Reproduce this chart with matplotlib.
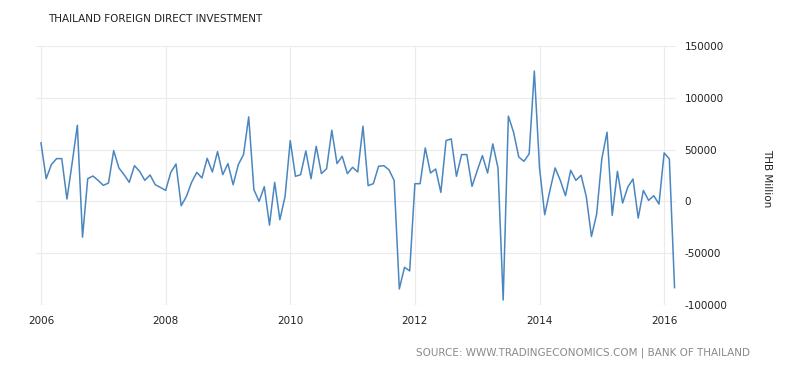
import matplotlib
matplotlib.use("Agg")
import matplotlib.pyplot as plt
import numpy as np

title = "THAILAND FOREIGN DIRECT INVESTMENT"
source = "SOURCE: WWW.TRADINGECONOMICS.COM | BANK OF THAILAND"
y_label = "THB Million"
start_year = 2006

# Monthly values, Jan 2006 - Mar 2016 (THB Million)
values_2006 = [56500, 21900, 35500, 41300, 41300, 2300, 37000, 73500, -34500, 21900, 24500, 20300]
values_2007 = [15500, 17700, 49000, 32300, 25800, 18400, 34500, 29000, 20300, 25500, 16100, 13500]
values_2008 = [10600, 28000, 36100, -4200, 4800, 18400, 28000, 22600, 41600, 28400, 48100, 25800]
values_2009 = [36500, 16100, 35500, 45200, 81600, 11300, 0, 14200, -22900, 18400, -17700, 4800]
values_2010 = [58700, 24200, 25800, 48700, 21900, 53200, 26800, 31600, 68700, 36500, 43500, 26800]
values_2011 = [32900, 28400, 72600, 15200, 17100, 33900, 34500, 30600, 20300, -84500, -63600, -67100]
values_2012 = [17100, 17100, 51600, 27400, 31300, 8700, 58700, 60300, 24200, 45200, 45200, 14500]
values_2013 = [29700, 44200, 27400, 55500, 32300, -95200, 82300, 66800, 42900, 38700, 45800, 125800]
values_2014 = [32300, -12900, 10600, 32300, 20300, 5500, 30000, 20300, 25200, 4800, -33900, -12300]
values_2015 = [41300, 66800, -13500, 29000, -1600, 13900, 21600, -16100, 10600, 1000, 5500, -2600]
values_2016 = [46800, 41000, -83200]

x_ticks = [2006, 2008, 2010, 2012, 2014, 2016]
y_ticks = [-100000, -50000, 0, 50000, 100000, 150000]

values = (values_2006 + values_2007 + values_2008 + values_2009 + values_2010 +
          values_2011 + values_2012 + values_2013 + values_2014 + values_2015 + values_2016)
x = start_year + np.arange(len(values)) / 12.0

fig = plt.figure(figsize=(8, 3.73), dpi=100)
ax = fig.add_axes([0.045, 0.1823, 0.80, 0.6944])
ax.plot(x, values, color="#4a86c0", linewidth=1.1)

ax.set_xlim(2005.92, 2016.19)
ax.set_ylim(-100000, 150000)
ax.set_xticks(x_ticks)
ax.set_xticklabels([str(t) for t in x_ticks])
ax.set_yticks(y_ticks)
ax.set_yticklabels([str(t) for t in y_ticks])
ax.yaxis.tick_right()
ax.tick_params(axis="both", length=0, labelsize=7.5, colors="#222222")
ax.tick_params(axis="y", pad=6)
ax.tick_params(axis="x", pad=8)
for s in ax.spines.values():
    s.set_visible(False)
ax.grid(True, color="#ebebeb", linewidth=0.8)
ax.set_axisbelow(True)

fig.text(48/800, 1 - 18.5/373, title, fontsize=7.5, color="#222222", va="center", ha="left")
fig.text(750/800, 1 - 353/373, source, fontsize=7.5, color="#8a8a8a", va="center", ha="right")
fig.text(767/800, 1 - 178/373, y_label, fontsize=7.5, color="#222222", rotation=-90,
         va="center", ha="center")

fig.savefig("out.png", dpi=100)
